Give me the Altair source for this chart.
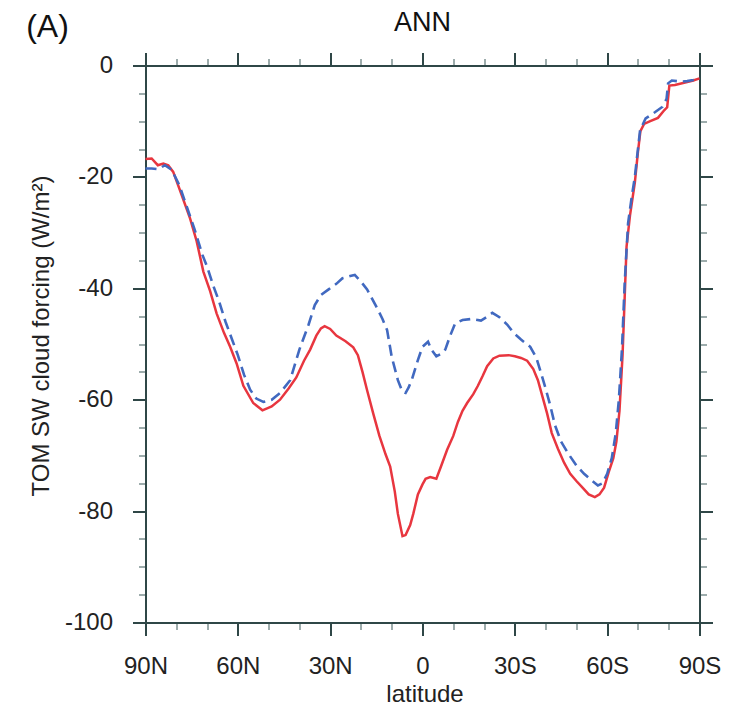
import altair as alt
import pandas as pd

# ---------------- data ----------------
lat_red = [90, 88, 86, 84.2, 82.6, 81, 78.8, 75.5, 73.4, 71.2, 69, 66.9, 64.5, 62.5, 60.4,
           58.2, 55, 52, 49, 46.3, 43.5, 41, 38.5, 36.5, 34.5, 33, 31.8, 30, 28, 25, 22.5,
           21, 19.5, 18, 16, 14, 12, 10.5, 9, 8, 6.5, 5.5, 4, 3, 1.5, 0, -1, -2.5, -4.5,
           -6, -8, -10, -11.5, -13, -14.5, -16.5, -18, -19.5, -21, -23, -25, -28, -30, -32,
           -34, -36, -37.5, -39, -40.5, -42, -44, -46, -48, -50, -52, -54, -56, -57.5, -59,
           -60.5, -62, -63, -64, -65, -65.8, -66.3, -67.4, -69, -70, -70.8, -72, -74, -76.5,
           -78.6, -79.5, -80.2, -82, -85, -88, -90]
val_red = [-16.8, -16.7, -17.9, -17.6, -17.9, -19.1, -22.4, -27.5, -31.5, -37, -40.5, -44.5,
           -48, -50.5, -53.5, -57.5, -60.6, -61.9, -61.2, -60, -58, -56, -53, -51, -48.5,
           -47.2, -46.8, -47.3, -48.5, -49.5, -50.6, -52, -55, -58.3, -62.5, -66.5, -69.8,
           -72, -76.5, -80.5, -84.5, -84.3, -82.5, -80.5, -77, -75.2, -74.2, -73.9, -74.2,
           -72, -69, -66.5, -64, -62, -60.6, -59, -57.5, -55.8, -54, -52.6, -52.1, -52,
           -52.2, -52.5, -53, -54.5, -56.5, -59.5, -62.5, -66, -68.8, -71.3, -73.3, -74.6,
           -75.8, -77, -77.5, -77, -75.8, -73, -70.5, -67.5, -62, -52, -40, -32.5, -27, -21,
           -15.5, -11.8, -10.5, -10, -9.4, -8, -7.5, -3.6, -3.5, -3.1, -2.7, -2.3]

lat_blue = [90, 88, 85.8, 83.7, 81.5, 79, 76.5, 74, 71.5, 70, 68, 66, 64, 62, 60, 58, 56, 54,
            51.7, 49, 46.3, 43, 40, 37, 35, 33, 30.5, 28, 26, 23.5, 22, 20, 18, 15, 13, 11.5,
            10, 8, 6.5, 5.5, 4.5, 3.4, 1.5, 0, -1.8, -3, -4.5, -6, -7.4, -9, -10.6, -13, -16,
            -19, -21, -22.7, -25, -27.5, -29.6, -32, -35, -37, -38.5, -40, -41.5, -43, -45,
            -47.5, -50, -52.5, -55, -57, -58.5, -60, -61.5, -62.8, -63.8, -64.8, -65.7, -66.8,
            -68, -69, -70, -70.7, -72.5, -75.5, -78, -79.3, -79.8, -81, -84, -86, -88, -90]
val_blue = [-18.5, -18.5, -18.6, -17.9, -18.7, -21.5, -25.5, -29.5, -34, -36.1, -39.5, -42.5,
            -46, -49, -52, -55.5, -58.2, -59.8, -60.4, -60, -58.8, -56.5, -51, -46.5, -43,
            -41.2, -40.2, -39.2, -38.2, -37.8, -37.6, -38.8, -40.2, -43.3, -45.5, -47.5,
            -52.3, -56.5, -58.6, -58.8, -57.8, -56.3, -52.9, -50.5, -49.6, -51.1, -52.2,
            -51.8, -51, -48.5, -46.3, -45.7, -45.5, -45.8, -45.1, -44.4, -45.2, -46.5, -48,
            -49.2, -50.5, -52.5, -55.2, -58, -61, -64.5, -67.5, -69.8, -71.8, -73.3, -74.5,
            -75.4, -75, -73.3, -70.5, -66, -60, -51, -39, -28.3, -23.5, -20, -15, -11.6,
            -9.5, -8.4, -7.4, -6, -3.2, -2.7, -2.9, -2.8, -2.6, -2.2]

x_major = [90, 60, 30, 0, -30, -60, -90]
x_minor = [80, 70, 50, 40, 20, 10, -10, -20, -40, -50, -70, -80]
y_major = [0, -20, -40, -60, -80, -100]
y_minor = [-5, -10, -15, -25, -30, -35, -45, -50, -55, -65, -70, -75, -85, -90, -95]

title_text = "ANN"
panel_text = "(A)"
x_title = "latitude"
y_title = "TOM SW cloud forcing (W/m²)"

df_red = pd.DataFrame({"lat": lat_red, "val": val_red})
df_blue = pd.DataFrame({"lat": lat_blue, "val": val_blue})

# ---------------- styling ----------------
FONT = "Liberation Sans"
AX = "#2f4747"
MINOR = "#7d9090"
W, H = 554, 557

xscale = alt.Scale(domain=[-90, 90], reverse=True, nice=False, zero=False)
yscale = alt.Scale(domain=[-100, 0], nice=False, zero=False)

major = dict(grid=False, domainColor=AX, domainWidth=2, tickColor=AX, tickWidth=2,
             tickSize=13)
minor = dict(grid=False, domain=False, labels=False, tickColor=MINOR, tickWidth=1.5,
             tickSize=7)

x_label_expr = ("datum.value == 0 ? '0' : (datum.value > 0 ? datum.value + 'N' : "
                "(-datum.value) + 'S')")

red = alt.Chart(df_red).mark_line(color="#e8363f", strokeWidth=2.5).encode(
    x=alt.X("lat:Q", scale=xscale, title=x_title,
            axis=alt.Axis(orient="bottom", values=x_major, labelExpr=x_label_expr,
                          labelFlush=False, labelOverlap=False,
                          labelFont=FONT, labelFontSize=24, labelColor="#222",
                          labelPadding=19, titleFont=FONT, titleFontSize=24,
                          titleFontWeight="normal", titleColor="#222",
                          titleX=W / 2 + 2, titleY=72, titleBaseline="middle",
                          titleAlign="center", **major)),
    y=alt.Y("val:Q", scale=yscale, title=y_title,
            axis=alt.Axis(orient="left", values=y_major, labelExpr="'' + datum.value",
                          labelFlush=False, labelOverlap=False,
                          labelFont=FONT, labelFontSize=24, labelColor="#222",
                          labelPadding=20, titleFont=FONT, titleFontSize=24,
                          titleFontWeight="normal", titleColor="#222",
                          titleX=-104, titleY=270, titleAngle=-90,
                          titleBaseline="middle", titleAlign="center", **major)),
    order="lat_order:Q",
).transform_window(lat_order="row_number()")

blue = alt.Chart(df_blue).mark_line(color="#4169c0", strokeWidth=2.6,
                                    strokeDash=[11, 6]).encode(
    x=alt.X("lat:Q", scale=xscale, title=None,
            axis=alt.Axis(orient="top", values=x_major, labels=False, **major)),
    y=alt.Y("val:Q", scale=yscale, title=None,
            axis=alt.Axis(orient="right", values=y_major, labels=False, **major)),
    order="lat_order:Q",
).transform_window(lat_order="row_number()")

minor_a = alt.Chart(df_red).mark_line(opacity=0).encode(
    x=alt.X("lat:Q", scale=xscale, title=None,
            axis=alt.Axis(orient="bottom", values=x_minor, **minor)),
    y=alt.Y("val:Q", scale=yscale, title=None,
            axis=alt.Axis(orient="left", values=y_minor, **minor)),
)

minor_b = alt.Chart(df_red).mark_line(opacity=0).encode(
    x=alt.X("lat:Q", scale=xscale, title=None,
            axis=alt.Axis(orient="top", values=x_minor, **minor)),
    y=alt.Y("val:Q", scale=yscale, title=None,
            axis=alt.Axis(orient="right", values=y_minor, **minor)),
)

ann = alt.Chart(pd.DataFrame({"t": [title_text]})).mark_text(
    font=FONT, fontSize=27, color="#111", align="center", baseline="alphabetic"
).encode(text="t:N", x=alt.value(W / 2), y=alt.value(-35))

panel = alt.Chart(pd.DataFrame({"t": [panel_text]})).mark_text(
    font=FONT, fontSize=32, color="#111", align="center", baseline="alphabetic"
).encode(text="t:N", x=alt.value(-98), y=alt.value(-29))

chart = alt.layer(minor_a, minor_b, red, blue, ann, panel).resolve_axis(
    x="independent", y="independent"
).properties(
    width=W, height=H,
    autosize=alt.AutoSizeParams(type="none"),
    padding={"left": 137.5, "top": 57.5, "right": 30, "bottom": 85},
).configure_view(stroke=None)

chart.save("out.html", embed_options={"renderer": "svg", "actions": False})
